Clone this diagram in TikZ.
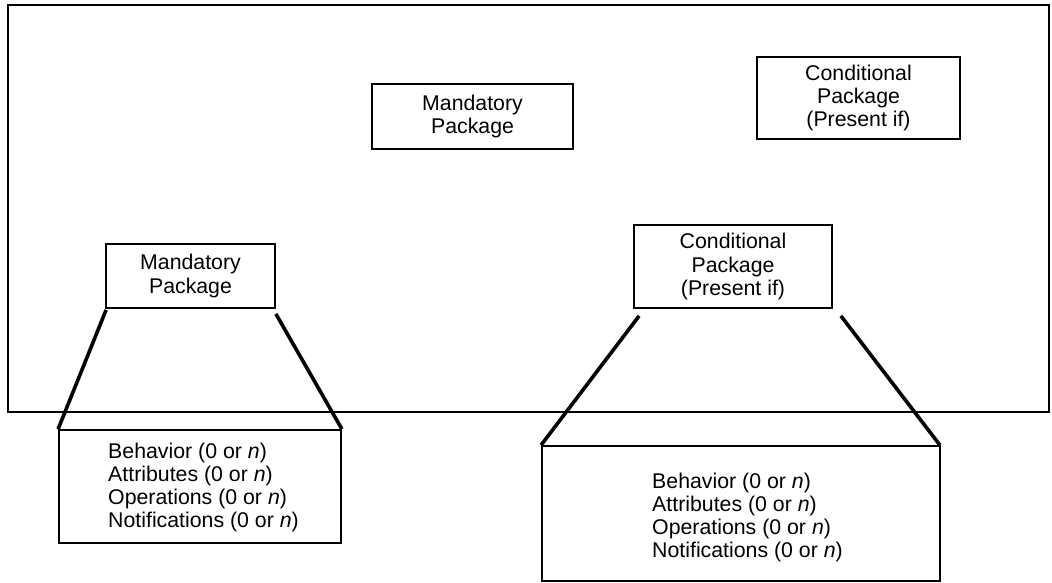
\documentclass[tikz,border=0pt]{standalone}
\usepackage{fontspec}
\setmainfont{Liberation Sans}
\begin{document}
\begin{tikzpicture}[x=1pt,y=-1pt,
  lbl/.style={font=\fontsize{21.3}{23.3}\selectfont},
  pkg/.style={draw,line width=1.8pt,rectangle,inner sep=0pt,align=center,lbl},
  detail/.style={draw,line width=1.8pt,rectangle,inner sep=0pt},
  items/.style={align=left,inner sep=0pt,lbl},
  zoomline/.style={line width=3.6pt}]
\useasboundingbox (0,0) rectangle (1052,582);

% managed object class boundary
\node[draw,line width=2.4pt,rectangle,inner sep=0pt,minimum width=1041pt,minimum height=407pt] (cls) at (528.5,208.5) {};

% packages inside the class
\node[pkg,minimum width=201pt,minimum height=65pt] (mp1) at (472.5,116.5) {Mandatory\\Package};
\node[pkg,minimum width=203pt,minimum height=82pt] (cp1) at (858.5,98) {Conditional\\Package\\(Present if)};
\node[pkg,minimum width=169pt,minimum height=64pt] (mp2) at (190.5,276) {Mandatory\\Package};
\node[pkg,minimum width=198pt,minimum height=83pt] (cp2) at (733,266.5) {Conditional\\Package\\(Present if)};

% expanded package contents
\node[detail,minimum width=282pt,minimum height=113pt] (md) at (200,486.5) {};
\node[detail,minimum width=398pt,minimum height=135pt] (cd) at (741,513.5) {};
\node[items] (mdt) at (203.5,487.5) {Behavior (0 or \textit{n})\\Attributes (0 or \textit{n})\\Operations (0 or \textit{n})\\Notifications (0 or \textit{n})};
\node[items] (cdt) at (747.5,517.5) {Behavior (0 or \textit{n})\\Attributes (0 or \textit{n})\\Operations (0 or \textit{n})\\Notifications (0 or \textit{n})};

% zoom lines from package to its contents
\draw[zoomline] ([shift={(1,1)}]mp2.south west) -- (md.north west);
\draw[zoomline] ([shift={(0,5)}]mp2.south east) -- (md.north east);
\draw[zoomline] ([shift={(6,7)}]cp2.south west) -- (cd.north west);
\draw[zoomline] ([shift={(8,7)}]cp2.south east) -- ([shift={(-1,0)}]cd.north east);
\end{tikzpicture}
\end{document}
